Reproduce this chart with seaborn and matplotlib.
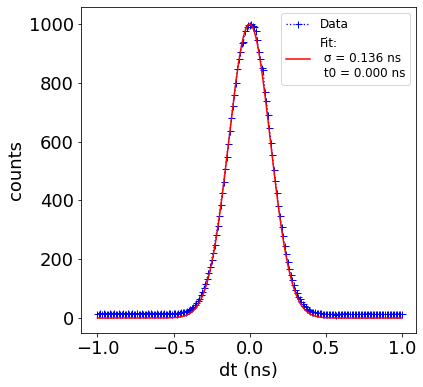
import numpy as np
import pandas as pd
import matplotlib
matplotlib.use("Agg")
import matplotlib.pyplot as plt
import seaborn as sns

# time axis (ns)
dt = [round(-1.0 + 0.01 * i, 2) for i in range(201)]

# measured counts
counts_left_tail = [15, 13, 16, 14, 17, 12, 15, 14, 16, 13, 15, 17, 14, 13, 16, 15, 12, 16, 14, 15,
                    17, 14, 13, 16, 15, 14, 18, 13, 15, 16, 14, 12, 15, 17, 14, 16, 13, 15, 14, 16,
                    15, 13, 17, 14, 16, 15, 14, 17, 16, 15]
counts_left_flank = [16, 17, 15, 18, 17, 19, 20, 21, 22, 25, 27, 30, 35, 38, 44, 50, 58, 66, 77, 88,
                     101, 116, 133, 152, 174, 197, 222, 250, 281, 313, 348, 385, 424, 464, 506, 549,
                     592, 636, 680, 722, 760, 800, 846, 880, 905, 935, 940, 975, 991, 995]
counts_center = [998]
counts_right_flank = [1000, 992, 990, 975, 945, 905, 880, 850, 842, 770, 738, 690, 645, 596, 553, 505,
                      466, 425, 382, 346, 309, 278, 246, 217, 192, 168, 147, 128, 111, 97, 84, 72,
                      63, 55, 47, 41, 36, 31, 27, 24, 22, 20, 19, 18, 17, 16, 16, 15, 15, 14]
counts_right_tail = [13, 14, 12, 15, 13, 14, 11, 13, 15, 12, 14, 13, 12, 15, 13, 14, 12, 13, 14, 12,
                     13, 15, 12, 14, 13, 12, 14, 13, 15, 12, 13, 14, 12, 13, 14, 12, 15, 13, 12, 14,
                     13, 12, 14, 13, 15, 12, 13, 14, 12, 13]
counts = counts_left_tail + counts_left_flank + counts_center + counts_right_flank + counts_right_tail

# fitted gaussian (sigma = 0.136 ns, t0 = 0.000 ns), values at |dt| = 0.00 ... 1.00
fit_half = [1000, 997.3, 989.2, 976.0, 957.7, 934.7, 907.3, 875.9, 840.9, 803.3,
            763.2, 721.0, 677.6, 633.3, 588.7, 544.3, 500.6, 457.8, 416.5, 376.9,
            339.1, 303.6, 270.2, 239.3, 210.7, 184.6, 160.8, 139.4, 120.1, 102.9,
            87.8, 74.4, 62.8, 52.7, 43.9, 36.5, 30.1, 24.7, 20.2, 16.4,
            13.2, 10.6, 8.5, 6.7, 5.3, 4.2, 3.3, 2.6, 2.0, 1.5,
            1.2, 0.9, 0.7, 0.5, 0.4, 0.3, 0.2, 0.1, 0.1, 0.1] + [0] * 41
fit_counts = fit_half[::-1] + fit_half[1:]

data_label = "Data"
fit_label = "Fit:\n σ = 0.136 ns\n t0 = 0.000 ns"
xlabel = "dt (ns)"
ylabel = "counts"

df = pd.DataFrame({"dt": dt, "counts": counts, "fit": fit_counts})

fig = plt.figure(figsize=(423 / 72, 387 / 72), dpi=72)
ax = fig.add_axes([0.1915, 0.1395, 0.792, 0.8425])

sns.lineplot(data=df, x="dt", y="counts", ax=ax, color="blue", linestyle=":",
             marker="+", markersize=7, markeredgewidth=1.0, markeredgecolor="blue",
             linewidth=1.3, label=data_label, sort=False)
sns.lineplot(data=df, x="dt", y="fit", ax=ax, color="red", linewidth=1.5,
             label=fit_label, sort=False)

ax.set_xlim(-1.108, 1.094)
ax.set_ylim(-51, 1058)
ax.set_xticks([-1.0, -0.5, 0.0, 0.5, 1.0])
ax.set_yticks([0, 200, 400, 600, 800, 1000])
ax.tick_params(labelsize=18)
ax.set_xlabel(xlabel, fontsize=18)
ax.set_ylabel(ylabel, fontsize=18)
ax.legend(loc="upper right", fontsize=12)

fig.savefig("out.png", dpi=72)
